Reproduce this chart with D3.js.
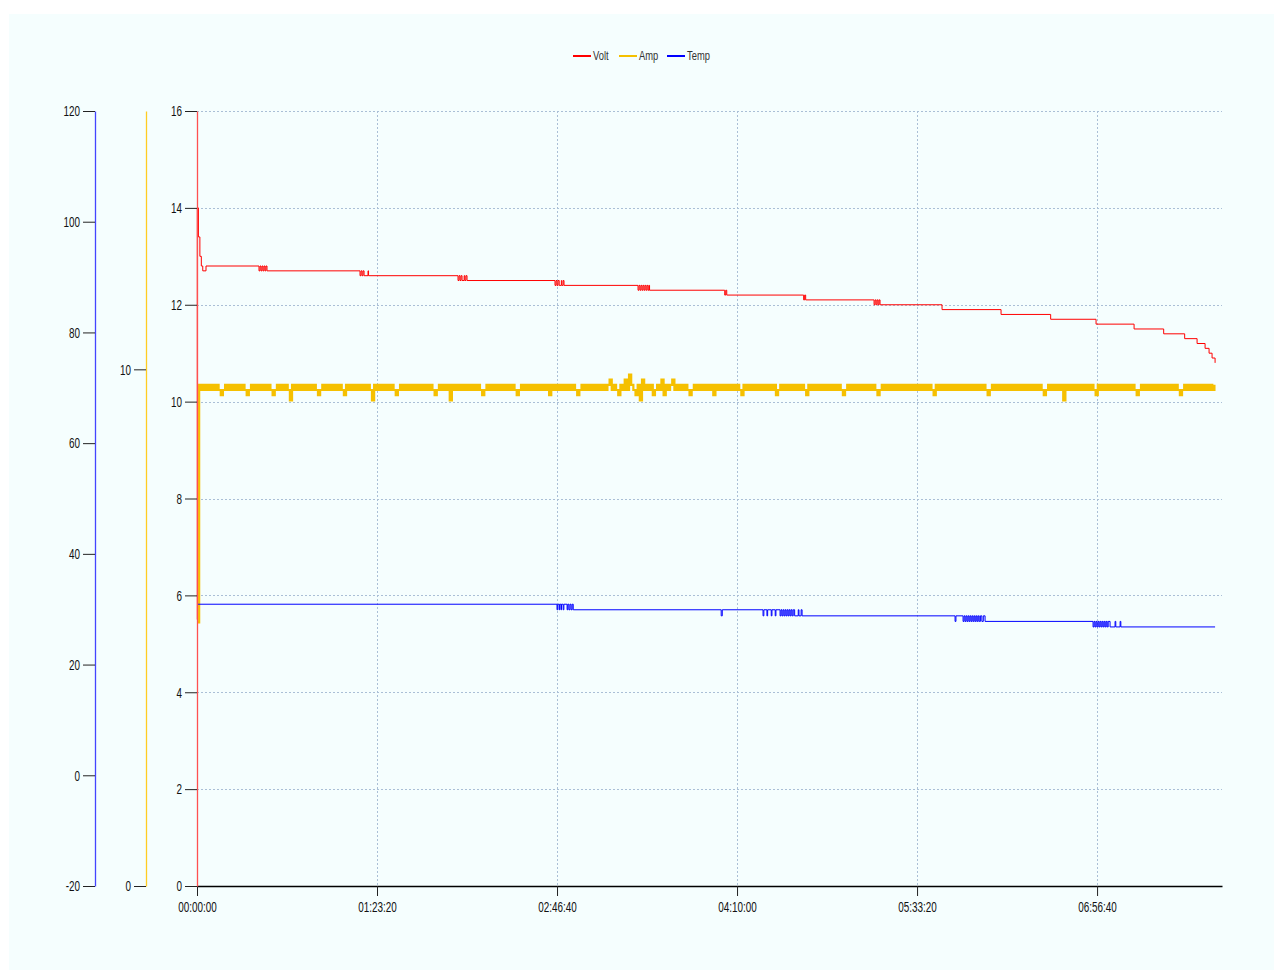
<!DOCTYPE html>
<html>
<head>
<meta charset="utf-8">
<script src="https://cdn.jsdelivr.net/npm/d3@7"></script>
<style>
body { margin: 0; background: #fff; }
text { font-family: "Liberation Sans", Arial, sans-serif; }
</style>
</head>
<body>
<div id="chart"></div>
<script>
var margin = {top: 111, right: 61, bottom: 93, left: 197};
var width = 1283 - margin.left - margin.right;
var height = 979 - margin.top - margin.bottom;

// Series names / colours
var seriesNames = ["Volt", "Amp", "Temp"];
var seriesColors = ["#ff0000", "#f5c000", "#0000ff"];

// tick values
var xTicks = [0, 5000, 10000, 15000, 20000, 25000];
var voltTicks = [0, 2, 4, 6, 8, 10, 12, 14, 16];
var ampTicks = [0, 10];
var tempTicks = [-20, 0, 20, 40, 60, 80, 100, 120];
var xMax = 28470;

// Volt: [seconds, volts]
var voltData = [
  [0, 5.5], [8, 14.0], [40, 13.4], [80, 13.0], [120, 12.8], [160, 12.7], [250, 12.8],
  [1722, 12.7], [1750, 12.8], [1778, 12.7], [1806, 12.8], [1834, 12.7], [1862, 12.8], [1890, 12.7], [1916, 12.8], [1944, 12.7],
  [4528, 12.6], [4556, 12.7], [4584, 12.6], [4612, 12.7], [4640, 12.6], [4750, 12.7], [4765, 12.6],
  [7250, 12.5], [7278, 12.6], [7306, 12.5], [7334, 12.6], [7362, 12.5], [7420, 12.6], [7440, 12.5], [7470, 12.6], [7500, 12.5],
  [9944, 12.4], [9972, 12.5], [10000, 12.4], [10028, 12.5], [10060, 12.4], [10120, 12.5], [10135, 12.4], [10170, 12.5], [10194, 12.4],
  [12250, 12.3], [12278, 12.4], [12306, 12.3], [12334, 12.4], [12362, 12.3], [12390, 12.4], [12418, 12.3], [12446, 12.4],
  [12474, 12.3], [12502, 12.4], [12530, 12.3], [12556, 12.4], [12570, 12.3],
  [14658, 12.2], [14686, 12.3], [14714, 12.2],
  [16850, 12.1], [16878, 12.2], [16906, 12.1],
  [18806, 12.0], [18834, 12.1], [18862, 12.0], [18890, 12.1], [18918, 12.0], [18946, 12.1], [18972, 12.0],
  [20694, 11.9], [22333, 11.8], [23711, 11.7], [24972, 11.6], [26028, 11.5], [26850, 11.4],
  [27433, 11.3], [27778, 11.2], [28000, 11.1], [28111, 11.0], [28194, 10.9], [28278, 10.8]
];

// Temp: [seconds, deg]
var tempData = [
  [0, 30.9],
  [10000, 29.9], [10020, 30.9], [10060, 29.9], [10075, 30.9], [10110, 29.9], [10125, 30.9], [10170, 29.9], [10190, 30.9],
  [10280, 29.9], [10300, 30.9], [10330, 29.9], [10360, 30.9], [10390, 29.9], [10420, 30.9], [10450, 29.9],
  [14560, 28.8], [14590, 29.9],
  [15722, 28.8], [15745, 29.9], [15830, 28.8], [15850, 29.9], [15950, 28.8], [15970, 29.9], [16060, 28.8], [16080, 29.9],
  [16195, 28.8], [16222, 29.9], [16250, 28.8], [16278, 29.9], [16306, 28.8], [16334, 29.9], [16362, 28.8], [16390, 29.9],
  [16418, 28.8], [16446, 29.9], [16474, 28.8], [16502, 29.9], [16530, 28.8], [16560, 29.9], [16600, 28.8], [16700, 29.9],
  [16720, 28.8], [16780, 29.9], [16806, 28.8],
  [21056, 27.8], [21080, 28.8], [21278, 27.8], [21306, 28.8], [21334, 27.8], [21362, 28.8], [21390, 27.8], [21418, 28.8],
  [21446, 27.8], [21474, 28.8], [21502, 27.8], [21530, 28.8], [21558, 27.8], [21586, 28.8], [21614, 27.8], [21642, 28.8],
  [21670, 27.8], [21698, 28.8], [21726, 27.8], [21760, 28.8], [21800, 27.8], [21840, 28.8], [21889, 27.8],
  [24889, 26.8], [24917, 27.8], [24945, 26.8], [24973, 27.8], [25001, 26.8], [25029, 27.8], [25057, 26.8], [25085, 27.8],
  [25113, 26.8], [25141, 27.8], [25169, 26.8], [25197, 27.8], [25225, 26.8], [25253, 27.8], [25281, 26.8], [25309, 27.8],
  [25361, 26.8], [25500, 27.8], [25520, 26.8], [25640, 27.8], [25660, 26.8],
  [28278, 26.8]
];

// Amp: first reading, then one reading per minute (digit d -> 9.d A)
var ampStart = 5.1;
var ampInterval = 60;
var ampReadings =
  "767676767656767676767656767676767656767676476767676767656767" +
  "676767657676767676764767676767656767676767676767656767674767" +
  "676767676765676767676767676567676767676767576767676767656767" +
  "676767676786765768697657486767567685767867676765676767676757" +
  "676767676765767676767676767567676767676765767676767676767656" +
  "767676767676765676767676767676767676767657676767676767676767" +
  "676765676767676767676767676767656767676747676767676767657676" +
  "767676767676765676767676767676767656767676767676767";

var ampData = [[0, ampStart]];
ampReadings.split("").forEach(function(c, i) {
    ampData.push([(i + 1) * ampInterval, 9 + (+c) / 10]);
});

var pad = d3.format("02d");
function hms(s) {
    return pad(Math.floor(s / 3600)) + ":" + pad(Math.floor(s % 3600 / 60)) + ":" + pad(s % 60);
}

var xScale = d3.scaleLinear().domain([0, xMax]).range([margin.left, margin.left + width]);
var yVolt = d3.scaleLinear().domain([0, 16]).range([margin.top + height, margin.top]);
var yAmp = d3.scaleLinear().domain([0, 15]).range([margin.top + height, margin.top]);
var yTemp = d3.scaleLinear().domain([-20, 120]).range([margin.top + height, margin.top]);

var svg = d3.select("#chart")
            .append("svg")
            .attr("width", 1283)
            .attr("height", 979);

svg.append("rect")
   .attr("x", 9).attr("y", 14)
   .attr("width", 1265).attr("height", 956)
   .attr("fill", "#f5fefe");

// narrow the Arial-like glyphs like the original
function squeeze(sel, k) {
    sel.each(function() {
        var w = this.getComputedTextLength();
        d3.select(this).attr("textLength", w * k).attr("lengthAdjust", "spacingAndGlyphs");
    });
}

// grid
svg.append("g")
   .selectAll("line")
   .data(voltTicks.filter(function(d) { return d > 0; }))
   .enter()
   .append("line")
   .attr("x1", margin.left).attr("x2", margin.left + width)
   .attr("y1", function(d) { return Math.round(yVolt(d)) + 0.5; })
   .attr("y2", function(d) { return Math.round(yVolt(d)) + 0.5; })
   .style("stroke", "#aabfd6").style("stroke-dasharray", "2,2");

svg.append("g")
   .selectAll("line")
   .data(xTicks.filter(function(d) { return d > 0; }))
   .enter()
   .append("line")
   .attr("y1", margin.top).attr("y2", margin.top + height)
   .attr("x1", function(d) { return Math.round(xScale(d)) + 0.5; })
   .attr("x2", function(d) { return Math.round(xScale(d)) + 0.5; })
   .style("stroke", "#aabfd6").style("stroke-dasharray", "2,2");

function styleAxis(g, color) {
    g.select(".domain").style("stroke", color).style("stroke-width", 1.3);
    g.selectAll(".tick line").style("stroke", "#222");
    g.selectAll(".tick text").style("fill", "#111").style("font-size", "15px")
     .call(squeeze, 0.66);
}

// y axes
svg.append("g")
   .attr("transform", "translate(95,0)")
   .call(d3.axisLeft(yTemp).tickValues(tempTicks).tickFormat(String).tickSize(12).tickSizeOuter(0).tickPadding(3))
   .call(styleAxis, "#4444ff");

svg.append("g")
   .attr("transform", "translate(146,0)")
   .call(d3.axisLeft(yAmp).tickValues(ampTicks).tickFormat(String).tickSize(12).tickSizeOuter(0).tickPadding(3))
   .call(styleAxis, "#ffcc22");

// x axis
svg.append("g")
   .attr("transform", "translate(0," + (margin.top + height) + ")")
   .call(d3.axisBottom(xScale).tickValues(xTicks).tickFormat(hms).tickSize(10).tickSizeOuter(0).tickPadding(5))
   .call(styleAxis, "#000");

// lines
var lineOf = function(y) {
    return d3.line()
             .x(function(d) { return xScale(d[0]); })
             .y(function(d) { return y(d[1]); })
             .curve(d3.curveStepAfter);
};

svg.append("path").datum(ampData)
   .attr("d", lineOf(yAmp))
   .attr("fill", "none").attr("stroke", seriesColors[1]).attr("stroke-width", 2.2);

svg.append("path").datum(tempData)
   .attr("d", lineOf(yTemp))
   .attr("fill", "none").attr("stroke", seriesColors[2]).attr("stroke-width", 1);

svg.append("path").datum(voltData)
   .attr("d", lineOf(yVolt))
   .attr("fill", "none").attr("stroke", seriesColors[0]).attr("stroke-width", 1);

// volt axis on top of the data
svg.append("g")
   .attr("transform", "translate(" + margin.left + ",0)")
   .call(d3.axisLeft(yVolt).tickValues(voltTicks).tickFormat(String).tickSize(12).tickSizeOuter(0).tickPadding(3))
   .call(styleAxis, "#ff5050");

// legend
var legendX = [573, 619, 667];
var legend = svg.append("g")
                .selectAll("g")
                .data(seriesNames)
                .enter()
                .append("g")
                .attr("transform", function(d, i) { return "translate(" + legendX[i] + ",56)"; });
legend.append("line")
      .attr("x1", 0).attr("x2", 18)
      .style("stroke", function(d, i) { return seriesColors[i]; })
      .style("stroke-width", 2);
legend.append("text")
      .attr("x", 20).attr("y", 4)
      .style("fill", "#333")
      .style("font-size", "13px")
      .text(function(d) { return d; })
      .call(squeeze, 0.72);
</script>
</body>
</html>
